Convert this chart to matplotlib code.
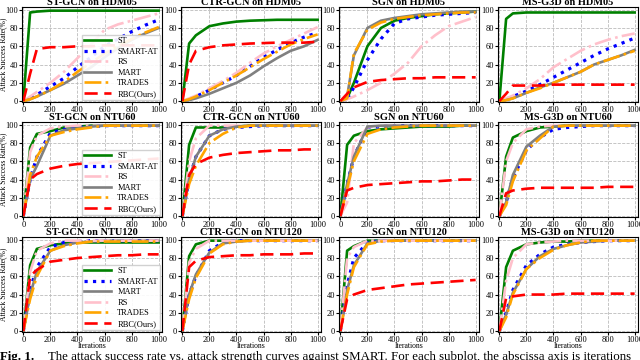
import numpy as np
import matplotlib
matplotlib.use("Agg")
import matplotlib.pyplot as plt

plt.rcParams['font.family'] = ['Liberation Serif', 'DejaVu Serif']

iters = [0, 50, 100, 200, 300, 400, 500, 600, 700, 800, 900, 1000]
models = ["ST-GCN", "CTR-GCN", "SGN", "MS-G3D"]
datasets = ["HDM05", "NTU60", "NTU120"]

# values per dataset -> per model -> per method
st = {
    "HDM05": [[0, 97, 98, 99, 99, 99, 99, 99, 99, 99, 99, 99],
              [0, 63, 72, 82, 85, 87, 88, 88.5, 89, 89, 89, 89],
              [0, 3, 20, 60, 80, 88, 91, 93, 95, 96, 97, 98],
              [0, 90, 96, 97, 97, 97, 97, 97, 97, 97, 97, 97]],
    "NTU60": [[0, 75, 90, 93, 97, 98, 99, 99, 99, 99, 99, 99],
              [0, 78, 97, 97, 97, 98, 99, 99, 99, 99, 99, 99],
              [0, 78, 88, 93, 95, 96, 97, 98, 98, 98, 99, 99],
              [0, 65, 86, 93, 97, 98, 99, 99, 99, 99, 99, 99]],
    "NTU120": [[0, 72, 90, 94, 96, 97, 97, 97, 97, 97, 97, 97],
               [0, 82, 95, 99, 99, 99, 99, 99, 99, 99, 99, 99],
               [0, 88, 93, 99, 99, 99, 99, 99, 99, 99, 99, 99],
               [0, 70, 88, 95, 97, 98, 98, 99, 99, 99, 99, 99]],
}
smart_at = {
    "HDM05": [[0, 3, 7, 16, 25, 37, 48, 60, 68, 76, 83, 89],
              [0, 2, 5, 12, 20, 28, 38, 48, 56, 64, 70, 75],
              [0, 2, 15, 45, 68, 85, 90, 92, 94, 95, 96, 97],
              [0, 2, 5, 11, 18, 26, 34, 42, 50, 57, 63, 69]],
    "NTU60": [[0, 40, 65, 91, 95, 97, 98, 99, 99, 99, 99, 99],
              [0, 40, 65, 88, 95, 97, 98, 99, 99, 99, 99, 99],
              [0, 35, 65, 97, 98, 99, 99, 99, 99, 99, 99, 99],
              [0, 15, 42, 72, 86, 95, 97, 98, 99, 99, 99, 99]],
    "NTU120": [[0, 45, 70, 92, 97, 98, 99, 99, 99, 99, 99, 99],
               [0, 40, 60, 88, 97, 99, 99, 99, 99, 99, 99, 99],
               [0, 50, 80, 97, 99, 99, 99, 99, 99, 99, 99, 99],
               [0, 20, 45, 72, 84, 92, 95, 97, 98, 99, 99, 99]],
}
rs = {
    "HDM05": [[0, 5, 10, 20, 32, 47, 62, 78, 84, 88, 92, 96],
              [0, 3, 6, 14, 22, 31, 42, 52, 60, 67, 74, 81],
              [0, 2, 5, 12, 20, 30, 42, 60, 72, 82, 87, 92],
              [0, 3, 6, 14, 24, 37, 46, 55, 62, 67, 71, 74]],
    "NTU60": [[0, 70, 88, 96, 98, 99, 99, 99, 99, 99, 99, 99],
              [0, 60, 85, 99, 99, 99, 99, 99, 99, 99, 99, 99],
              [0, 15, 80, 97, 99, 99, 99, 99, 99, 99, 99, 99],
              [0, 60, 80, 95, 98, 99, 99, 99, 99, 99, 99, 99]],
    "NTU120": [[0, 65, 88, 96, 99, 99, 99, 99, 99, 99, 99, 99],
               [0, 75, 90, 99, 99, 99, 99, 99, 99, 99, 99, 99],
               [0, 80, 92, 99, 99, 99, 99, 99, 99, 99, 99, 99],
               [0, 55, 80, 95, 97, 98, 99, 99, 99, 99, 99, 99]],
}
mart = {
    "HDM05": [[0, 2, 5, 12, 19, 28, 37, 48, 58, 67, 74, 80],
              [0, 1, 3, 8, 14, 20, 28, 38, 47, 55, 60, 67],
              [0, 5, 50, 80, 88, 91, 93, 95, 96, 97, 98, 98],
              [0, 1, 3, 9, 15, 20, 26, 32, 40, 45, 50, 56]],
    "NTU60": [[0, 40, 55, 88, 94, 96, 98, 99, 99, 99, 99, 99],
              [0, 40, 65, 88, 95, 98, 99, 99, 99, 99, 99, 99],
              [0, 35, 65, 98, 99, 99, 99, 99, 99, 99, 99, 99],
              [0, 15, 45, 76, 88, 98, 99, 99, 99, 99, 99, 99]],
    "NTU120": [[0, 40, 65, 88, 94, 97, 98, 99, 99, 99, 99, 99],
               [0, 40, 62, 86, 96, 98, 99, 99, 99, 99, 99, 99],
               [0, 45, 72, 96, 99, 99, 99, 99, 99, 99, 99, 99],
               [0, 18, 42, 68, 82, 90, 94, 97, 98, 99, 99, 99]],
}
trades = {
    "HDM05": [[0, 2, 5, 12, 21, 32, 42, 52, 60, 68, 75, 81],
              [0, 2, 5, 12, 20, 28, 37, 46, 54, 62, 68, 73],
              [0, 3, 52, 78, 86, 90, 92, 94, 95, 96, 97, 97],
              [0, 1, 3, 9, 14, 20, 26, 32, 40, 45, 50, 55]],
    "NTU60": [[0, 45, 65, 88, 92, 95, 97, 99, 99, 99, 99, 99],
              [0, 35, 55, 80, 90, 97, 99, 99, 99, 99, 99, 99],
              [0, 30, 60, 90, 95, 97, 98, 99, 99, 99, 99, 99],
              [0, 12, 38, 72, 85, 98, 99, 99, 99, 99, 99, 99]],
    "NTU120": [[0, 35, 60, 88, 93, 96, 98, 98, 98, 98, 98, 98],
               [0, 35, 58, 85, 95, 98, 99, 99, 99, 99, 99, 99],
               [0, 40, 70, 95, 98, 99, 99, 99, 99, 99, 99, 99],
               [0, 15, 40, 68, 80, 89, 94, 97, 99, 99, 99, 99]],
}
rbc = {
    "HDM05": [[0, 30, 57, 59, 59, 60, 60, 61, 61, 61, 61, 61],
              [0, 40, 55, 59, 61, 62, 63, 63.5, 64, 64, 64, 65],
              [0, 8, 15, 21, 23, 24, 25, 25, 26, 26, 26, 26],
              [0, 8, 17, 17, 17, 18, 18, 18, 18, 18, 18, 18]],
    "NTU60": [[0, 40, 46, 52, 55, 57, 58, 59, 60, 61, 62, 63],
              [0, 45, 57, 64, 67, 69, 70, 71, 72, 72, 73, 73],
              [0, 28, 31, 34, 35, 36, 37, 38, 38, 39, 40, 40],
              [0, 25, 28, 30, 31, 31, 31, 31, 31, 32, 32, 32]],
    "NTU120": [[0, 60, 67, 76, 78, 80, 81, 82, 83, 83, 84, 84],
               [0, 70, 77, 81, 82, 83, 83, 84, 84, 84, 85, 85],
               [0, 35, 40, 45, 47, 49, 51, 52, 53, 54, 55, 56],
               [0, 36, 38, 40, 40, 40, 41, 41, 41, 41, 41, 41]],
}

styles = {
    "ST": dict(color='green', ls='-', lw=1.9),
    "SMART-AT": dict(color='blue', ls=':', lw=2.3),
    "RS": dict(color='pink', ls='-.', lw=1.9),
    "MART": dict(color='grey', ls='-', lw=1.9),
    "TRADES": dict(color='orange', ls='-.', lw=1.9),
    "RBC(Ours)": dict(color='red', ls=(0, (5, 2.5)), lw=1.9),
}
series = {"ST": st, "SMART-AT": smart_at, "RS": rs, "MART": mart,
          "TRADES": trades, "RBC(Ours)": rbc}
legend_order = {
    "HDM05": ["ST", "SMART-AT", "RS", "MART", "TRADES", "RBC(Ours)"],
    "NTU60": ["ST", "SMART-AT", "RS", "MART", "TRADES", "RBC(Ours)"],
    "NTU120": ["ST", "SMART-AT", "MART", "RS", "TRADES", "RBC(Ours)"],
}

fig = plt.figure(figsize=(6.4, 3.6), dpi=100)
lefts = [22, 181, 339, 498]
tops = [7, 122, 237]
W, H = 140, 95

for r, ds in enumerate(datasets):
    for c, m in enumerate(models):
        ax = fig.add_axes([lefts[c] / 640, 1 - (tops[r] + H) / 360, W / 640, H / 360])
        for name in legend_order[ds]:
            ax.plot(iters, series[name][ds][c], label=name, **styles[name])
        ax.set_xlim(-10, 1025)
        ax.set_ylim(-1, 103)
        ax.set_xticks([0, 200, 400, 600, 800, 1000])
        ax.set_yticks([0, 20, 40, 60, 80, 100])
        ax.tick_params(labelsize=6, length=2, pad=0.8)
        ax.grid(True, ls='--', color='#bbbbbb', lw=0.6)
        ax.set_title(f"{m} on {ds}", fontsize=7.5, fontweight='bold', pad=1.5)
        if c == 0:
            ax.set_ylabel("Attack Success Rate(%)", fontsize=5.5)
            ax.yaxis.set_label_coords(-15 / W, 0.5)
            ax.legend(loc='lower right', fontsize=6, handlelength=3.2,
                      labelspacing=0.3, borderpad=0.3, borderaxespad=0.2,
                      fancybox=False, framealpha=0.9, edgecolor='#cccccc')
        if r == 2:
            ax.set_xlabel("Iterations", fontsize=5.5)
            ax.xaxis.set_label_coords(0.5, -10.5 / H)

fig.text(0.0, 0, "Fig. 1.", fontsize=9.3, fontweight='bold', va='baseline')
fig.text(0.075, 0,
         "The attack success rate vs. attack strength curves against SMART. "
         "For each subplot, the abscissa axis is iterations",
         fontsize=9.3, va='baseline')

fig.savefig("out.png", dpi=100)
